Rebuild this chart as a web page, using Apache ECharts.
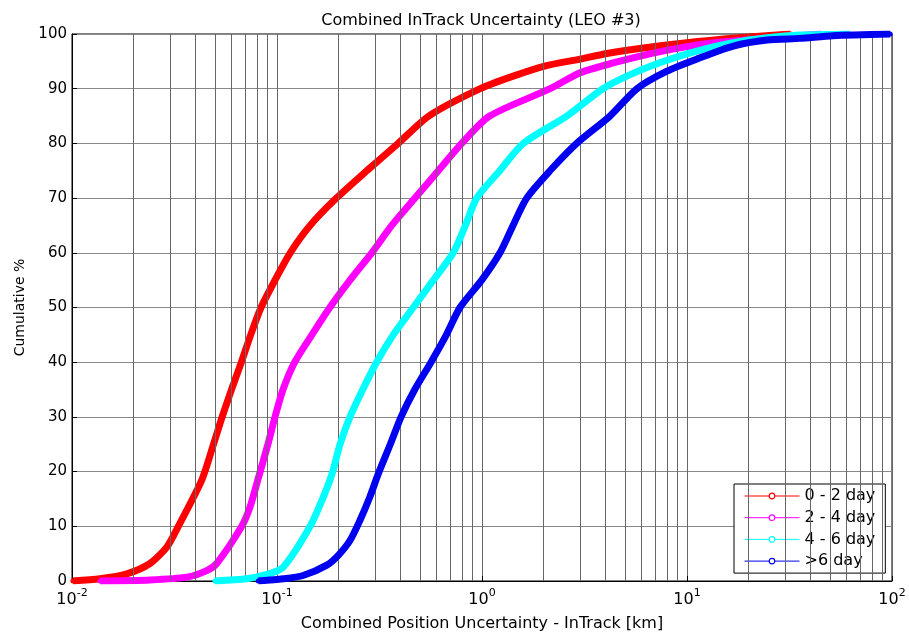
<!DOCTYPE html>
<html><head><meta charset="utf-8">
<script src="https://cdn.jsdelivr.net/npm/echarts@6/dist/echarts.min.js"></script>
<style>html,body{margin:0;padding:0;background:#fff}#c{width:909px;height:632px}</style>
</head><body><div id="c"></div>
<script>
const titleText = 'Combined InTrack Uncertainty (LEO #3)';
const xAxisTitle = 'Combined Position Uncertainty - InTrack [km]';
const yAxisTitle = 'Cumulative %';
const seriesNames = ['0 - 2 day', '2 - 4 day', '4 - 6 day', '>6 day'];
const seriesColors = ['#ff0000', '#ff00ff', '#00ffff', '#0000f0'];

const redX = [0.0101, 0.0137, 0.0185, 0.024, 0.029, 0.033, 0.043, 0.049, 0.054, 0.060, 0.067, 0.0744, 0.0836, 0.0978, 0.116, 0.145, 0.195, 0.274, 0.39, 0.55, 0.98, 1.42, 2.0, 3.0, 4.0, 5.0, 10, 18, 32];
const redY = [0, 0.4, 1.3, 3.2, 6.2, 10, 18.5, 25, 30, 35, 40, 45, 50, 55, 60, 65, 70, 75, 80, 85, 90, 92.3, 94.1, 95.4, 96.4, 97.0, 98.4, 99.3, 100];

const magentaX = [0.0137, 0.024, 0.0363, 0.0454, 0.0508, 0.0673, 0.0738, 0.0808, 0.0903, 0.0978, 0.107, 0.122, 0.148, 0.181, 0.227, 0.29, 0.363, 0.471, 0.612, 0.796, 1.09, 2.15, 3.01, 4.36, 6.83, 10.0, 14.5, 45];
const magentaY = [0, 0.2, 0.7, 1.9, 3.2, 10, 13.5, 18.6, 25, 30, 35, 40, 45, 50, 55, 60, 65, 70, 75, 80, 85, 90, 92.9, 94.7, 96.5, 97.7, 98.5, 100];

const cyanX = [0.0498, 0.0711, 0.0891, 0.107, 0.145, 0.171, 0.187, 0.203, 0.227, 0.262, 0.306, 0.369, 0.462, 0.579, 0.724, 0.83, 0.942, 1.22, 1.59, 2.59, 3.89, 5.45, 7.98, 11.5, 16.8, 24.6, 35.6, 62];
const cyanY = [0, 0.4, 1.2, 2.5, 10, 16, 20, 25, 30, 35, 40, 45, 50, 55, 60, 65, 70, 75, 80, 85, 90, 92.8, 95.2, 97.0, 98.4, 99.3, 99.8, 100];

const blueX = [0.081, 0.107, 0.134, 0.175, 0.199, 0.227, 0.254, 0.284, 0.312, 0.357, 0.403, 0.47, 0.564, 0.67, 0.781, 0.997, 1.224, 1.417, 1.652, 2.146, 2.897, 4.21, 5.70, 7.98, 11.3, 16.8, 24.6, 35.6, 51.5, 98];
const blueY = [0, 0.4, 1.0, 2.9, 4.7, 7.4, 11.1, 15.4, 19.6, 25, 30, 35, 40, 45, 50, 55, 60, 65, 70, 75, 80, 85, 90, 93.2, 95.5, 97.8, 98.9, 99.2, 99.7, 100];

const xMin = 0.01, xMax = 100;
const yMin = 0, yMax = 100, yStep = 10;
const minorGridX = [0.02,0.03,0.04,0.05,0.06,0.07,0.08,0.09, 0.2,0.3,0.4,0.5,0.6,0.7,0.8,0.9, 2,3,4,5,6,7,8,9, 20,30,40,50,60,70,80,90];

const FONT = 'DejaVu Sans';
const xs = [redX, magentaX, cyanX, blueX];
const ys = [redY, magentaY, cyanY, blueY];

const series = seriesNames.map((name, i) => ({
  name: name,
  type: 'line',
  data: xs[i].map((x, k) => [x, ys[i][k]]),
  symbol: 'circle',
  symbolSize: 5,
  showSymbol: true,
  smooth: 0.25,
  z: 3 + i,
  color: seriesColors[i],
  lineStyle: { width: 7, color: seriesColors[i] },
  itemStyle: { color: seriesColors[i] },
  emphasis: { disabled: true },
  animation: false
}));
series.unshift({
  name: 'grid',
  type: 'line',
  data: [],
  z: 1,
  silent: true,
  markLine: {
    silent: true,
    symbol: ['none', 'none'],
    label: { show: false },
    animation: false,
    lineStyle: { color: '#666', width: 1, type: 'solid' },
    data: minorGridX.map(v => ({ xAxis: v }))
  }
});

const chart = echarts.init(document.getElementById('c'), null, { renderer: 'canvas' });
chart.setOption({
  backgroundColor: '#fff',
  animation: false,
  title: {
    text: titleText, left: 476, top: 8, textAlign: 'center',
    textStyle: { fontFamily: FONT, fontSize: 16, fontWeight: 'normal', color: '#000' }
  },
  grid: { left: 72, right: 17, top: 34, bottom: 51, outerBoundsMode: 'none', containLabel: false, show: true, borderColor: '#000', borderWidth: 1, backgroundColor: 'transparent' },
  legend: {
    data: seriesNames.map((n, i) => ({
      name: n,
      itemStyle: { color: '#fff', borderColor: seriesColors[i], borderWidth: 1.2 }
    })),
    orient: 'vertical',
    left: 734, top: 484,
    backgroundColor: '#fff', borderColor: '#000', borderWidth: 1,
    padding: [4, 10, 4, 10],
    itemWidth: 55, itemHeight: 7, itemGap: 5.7,
    lineStyle: { width: 1 },
    textStyle: { fontFamily: FONT, fontSize: 16, color: '#000' }
  },
  xAxis: {
    type: 'log', logBase: 10, min: xMin, max: xMax,
    name: xAxisTitle, nameLocation: 'middle', nameGap: 30,
    nameTextStyle: { fontFamily: FONT, fontSize: 16, color: '#000' },
    axisLine: { lineStyle: { color: '#000', width: 1 } },
    axisTick: { inside: true, length: 5, lineStyle: { color: '#000' } },
    splitLine: { show: true, lineStyle: { color: '#666', width: 1 } },
    axisLabel: {
      margin: 7, color: '#000',
      formatter: v => '{b|10}{e|' + Math.round(Math.log10(v)) + '}',
      rich: {
        b: { fontFamily: FONT, fontSize: 16, color: '#000', verticalAlign: 'bottom', lineHeight: 20 },
        e: { fontFamily: FONT, fontSize: 11, color: '#000', verticalAlign: 'top', lineHeight: 11, padding: [0, 0, 12, 0] }
      }
    }
  },
  yAxis: {
    type: 'value', min: yMin, max: yMax, interval: yStep,
    name: yAxisTitle, nameLocation: 'middle', nameGap: 44, nameRotate: 90,
    nameTextStyle: { fontFamily: FONT, fontSize: 14, color: '#000' },
    axisLine: { show: true, lineStyle: { color: '#000', width: 1 } },
    axisTick: { show: true, inside: true, length: 5, lineStyle: { color: '#000' } },
    splitLine: { show: true, lineStyle: { color: '#888', width: 1 } },
    axisLabel: { margin: 5, color: '#000', fontFamily: FONT, fontSize: 15 }
  },
  series: series
});
</script></body></html>
